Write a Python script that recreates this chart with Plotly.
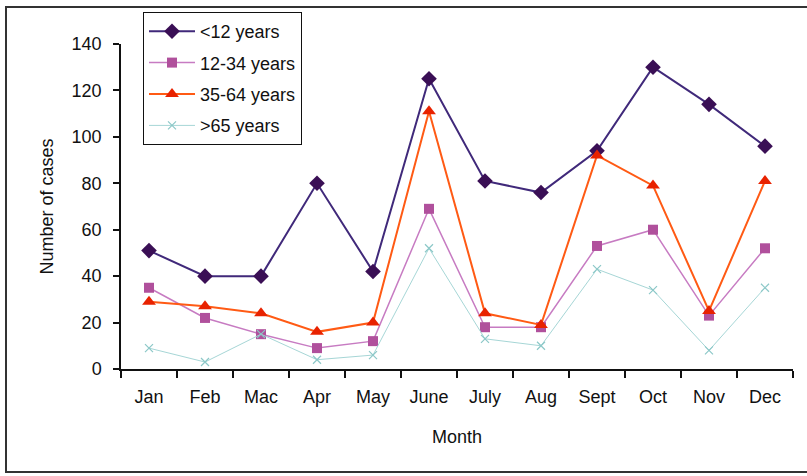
import plotly.graph_objects as go

# Monthly case counts by age group
months = ["Jan", "Feb", "Mac", "Apr", "May", "June", "July", "Aug", "Sept", "Oct", "Nov", "Dec"]
under_12 = [51, 40, 40, 80, 42, 125, 81, 76, 94, 130, 114, 96]
age_12_34 = [35, 22, 15, 9, 12, 69, 18, 18, 53, 60, 23, 52]
age_35_64 = [29, 27, 24, 16, 20, 111, 24, 19, 92, 79, 25, 81]
over_65 = [9, 3, 15, 4, 6, 52, 13, 10, 43, 34, 8, 35]

W, H = 807, 476
L, R, T, B = 121, 14, 44, 107  # plot area margins in px

series = [
    ("<12 years", under_12, dict(color="#40297A", width=2),
     dict(symbol="diamond", size=12, color="#3A0F55")),
    ("12-34 years", age_12_34, dict(color="#C77BC2", width=1.5),
     dict(symbol="square", size=10, color="#B0509C")),
    ("35-64 years", age_35_64, dict(color="#FF5A14", width=2),
     dict(symbol="triangle-up", size=12, color="#E82200")),
    (">65 years", over_65, dict(color="#A6D6D6", width=1),
     dict(symbol="x-thin", size=8, color="#8CC8C8",
          line=dict(width=1.2, color="#8CC8C8"))),
]

fig = go.Figure()
for i, (name, vals, line, marker) in enumerate(series):
    fig.add_trace(go.Scatter(
        x=months, y=vals, name=name, mode="lines+markers",
        line=line, marker=marker, legendgroup=f"g{i}",
    ))

pw = W - L - R
ph = H - T - B

def px_x(x):
    return (x - L) / pw

def px_y(y):
    return (H - B - y) / ph

font_main = "Liberation Sans, Arial, sans-serif"

fig.update_layout(
    width=W, height=H,
    margin=dict(l=L, r=R, t=T, b=B, pad=0),
    paper_bgcolor="white", plot_bgcolor="white",
    font=dict(family=font_main, size=17, color="#111111"),
    showlegend=True,
    legend=dict(
        x=px_x(143), y=px_y(12), xanchor="left", yanchor="top",
        bgcolor="white", bordercolor="#111111", borderwidth=1,
        font=dict(family=font_main, size=18, color="#111111"),
        tracegroupgap=5, itemwidth=46,
    ),
    xaxis=dict(
        type="category", range=[-0.5, 11.5], tickson="boundaries",
        showline=True, linecolor="#111111", linewidth=1.5,
        ticks="outside", ticklen=7, tickcolor="#111111", tickwidth=1.5,
        showgrid=False, zeroline=False,
        tickfont=dict(family=font_main, size=18),
        ticklabelstandoff=11,
        title=dict(text="Month", font=dict(family=font_main, size=18), standoff=24),
    ),
    yaxis=dict(
        range=[0, 140], dtick=20,
        showline=True, linecolor="#111111", linewidth=1.5,
        ticks="outside", ticklen=6, tickcolor="#111111", tickwidth=1.5,
        showgrid=False, zeroline=False,
        tickfont=dict(family=font_main, size=18),
        ticklabelstandoff=8,
        title=dict(text="Number of cases", font=dict(family=font_main, size=18), standoff=13),
    ),
    shapes=[
        dict(type="rect", xref="paper", yref="paper",
             x0=px_x(6), x1=px_x(812), y0=px_y(472), y1=px_y(7),
             line=dict(color="#333333", width=2), fillcolor="rgba(0,0,0,0)",
             layer="below"),
    ],
)

fig.write_html("out.html")
